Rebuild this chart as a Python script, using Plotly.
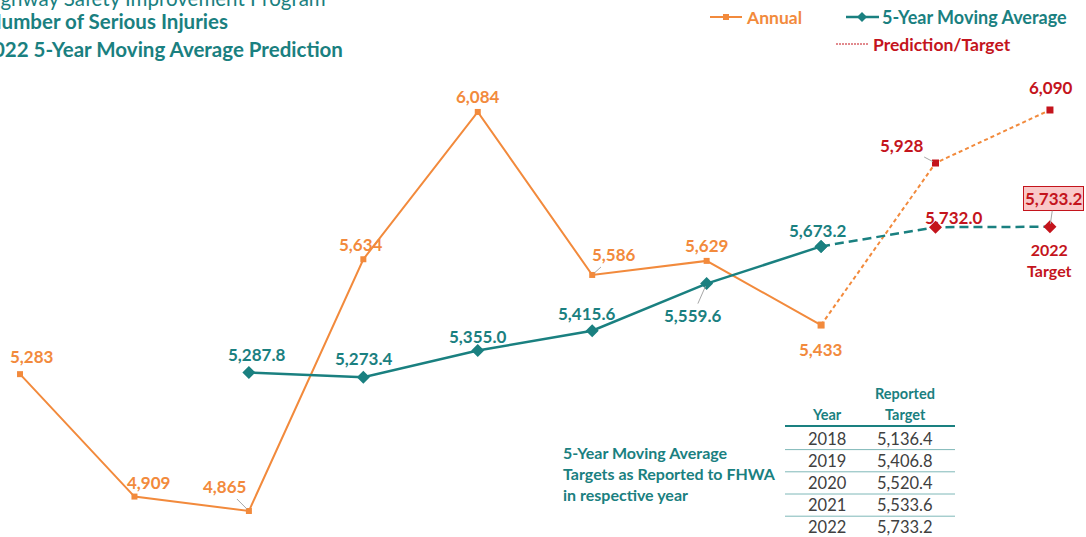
import plotly.graph_objects as go

# ---- data ----
years = [2013, 2014, 2015, 2016, 2017, 2018, 2019, 2020, 2021, 2022]
annual = [5283, 4909, 4865, 5634, 6084, 5586, 5629, 5433, 5928, 6090]
moving_avg = [None, None, 5287.8, 5273.4, 5355.0, 5415.6, 5559.6, 5673.2, 5732.0, 5733.2]
last_actual = 2020

table_years = [2018, 2019, 2020, 2021, 2022]
reported_targets = [5136.4, 5406.8, 5520.4, 5533.6, 5733.2]

title_lines = ["Highway Safety Improvement Program",
               "Number of Serious Injuries",
               "2022 5-Year Moving Average Prediction"]

ORANGE = "#F28A3C"
TEAL = "#1A8080"
RED = "#C4141C"
GREY = "#A6A6A6"
FONT = "Lato"
W, H = 1086, 537


def px(x):
    return x / W


def py(y):
    return 1 - y / H


def note(x, y, text, size, color, xanchor="center", yanchor="middle", **kw):
    # paper-positioned text, given in pixels from the top-left corner
    return dict(xref="paper", yref="paper", x=px(x), y=py(y), text=text, showarrow=False,
                xanchor=xanchor, yanchor=yanchor,
                font=dict(family=FONT, size=size, color=color), **kw)


i_last = years.index(last_actual)

fig = go.Figure()

# annual, reported years
fig.add_trace(go.Scatter(
    x=years[:i_last + 1], y=annual[:i_last + 1], mode="lines+markers",
    line=dict(color=ORANGE, width=2), marker=dict(symbol="square", size=6, color=ORANGE)))
# annual, prediction
fig.add_trace(go.Scatter(
    x=years[i_last:], y=annual[i_last:], mode="lines+markers",
    line=dict(color=ORANGE, width=2, dash="4px,3px"),
    marker=dict(symbol="square", size=7, color=[ORANGE] + [RED] * (len(years) - i_last - 1))))
# moving average, reported
ma_x = [yr for yr, v in zip(years, moving_avg) if v is not None]
ma_y = [v for v in moving_avg if v is not None]
j_last = ma_x.index(last_actual)
fig.add_trace(go.Scatter(
    x=ma_x[:j_last + 1], y=ma_y[:j_last + 1], mode="lines+markers",
    line=dict(color=TEAL, width=2.5), marker=dict(symbol="diamond", size=10, color=TEAL)))
# moving average, prediction
fig.add_trace(go.Scatter(
    x=ma_x[j_last:], y=ma_y[j_last:], mode="lines+markers",
    line=dict(color=TEAL, width=2.5, dash="9px,5px"),
    marker=dict(symbol="diamond", size=10, color=[TEAL] + [RED] * (len(ma_x) - j_last - 1))))

ann = []
LBL = 17


def point_label(yr, v, txt, col, dx, dy, lead):
    if lead:
        return dict(x=yr, y=v, text=f"<b>{txt}</b>", showarrow=True, ax=dx, ay=-dy, arrowhead=0,
                    arrowwidth=1, arrowcolor=GREY, standoff=3,
                    font=dict(family=FONT, size=LBL, color=col))
    return dict(x=yr, y=v, text=f"<b>{txt}</b>", showarrow=False, xshift=dx, yshift=dy,
                xanchor="center", yanchor="middle", font=dict(family=FONT, size=LBL, color=col))


# annual labels: (dx, dy, leader)
annual_pos = [(12, 18, False), (14, 14, False), (-24, 24, True), (-2, 15, False), (0, 15, False),
              (22, 20, True), (0, 15, False), (0, -24, False), (-34, 18, True), (1, 22, False)]
for yr, v, (dx, dy, lead) in zip(years, annual, annual_pos):
    col = RED if yr > last_actual else ORANGE
    ann.append(point_label(yr, v, f"{v:,}", col, dx, dy, lead))

ma_pos = [None, None, (8, 18, False), (0, 19, False), (0, 14, False), (-6, 17, False),
          (-14, -32, True), (-4, 16, False), (18, 10, False), None]
for yr, v, pos in zip(years, moving_avg, ma_pos):
    if v is None or pos is None:
        continue
    col = RED if yr > last_actual else TEAL
    ann.append(point_label(yr, v, f"{v:,.1f}", col, *pos))

# boxed 2022 target
ann.append(dict(x=years[-1], y=moving_avg[-1], text=f"<b>{moving_avg[-1]:,.1f}</b>", showarrow=True,
                ax=4, ay=-28, arrowhead=0, arrowwidth=1, arrowcolor=GREY, standoff=3,
                bgcolor="#F9C8C8", bordercolor=RED, borderwidth=1, borderpad=1,
                font=dict(family=FONT, size=LBL, color=RED)))
ann.append(dict(x=years[-1], y=moving_avg[-1], text="<b>2022<br>Target</b>", showarrow=False,
                xanchor="center", yanchor="middle", yshift=-33,
                font=dict(family=FONT, size=16, color=RED)))

# title (cropped at top-left like the source)
title_ends = [(328, -2, False), (230, 21, True), (345, 49, True)]
for line, (xe, yc, bold) in zip(title_lines, title_ends):
    ann.append(note(xe, yc, f"<b>{line}</b>" if bold else line, 20.5, TEAL, xanchor="right"))

# legend
ann.append(note(744, 17, "<b>Annual</b>", 17.5, ORANGE, xanchor="left"))
ann.append(note(880, 17, "<b>5-Year Moving Average</b>", 18, TEAL, xanchor="left"))
ann.append(note(871, 44, "<b>Prediction/Target</b>", 17.5, RED, xanchor="left"))

shapes = [
    dict(type="line", xref="paper", yref="paper", x0=px(710), x1=px(742), y0=py(17), y1=py(17),
         line=dict(color=ORANGE, width=2)),
    dict(type="rect", xref="paper", yref="paper", x0=px(723), x1=px(729), y0=py(14), y1=py(20),
         fillcolor=ORANGE, line=dict(width=0)),
    dict(type="line", xref="paper", yref="paper", x0=px(846), x1=px(879), y0=py(17), y1=py(17),
         line=dict(color=TEAL, width=2.5)),
    dict(type="path", xref="paper", yref="paper",
         path=f"M {px(862)},{py(12)} L {px(867)},{py(17)} L {px(862)},{py(22)} L {px(857)},{py(17)} Z",
         fillcolor=TEAL, line=dict(width=0)),
    dict(type="line", xref="paper", yref="paper", x0=px(836), x1=px(869), y0=py(44), y1=py(44),
         line=dict(color=RED, width=1, dash="2px,1px")),
]

# table of reported targets
ann.append(note(905, 393, "<b>Reported</b>", 14.5, TEAL))
ann.append(note(905, 414, "<b>Target</b>", 14.5, TEAL))
ann.append(note(827, 414, "<b>Year</b>", 14.5, TEAL))
shapes.append(dict(type="line", xref="paper", yref="paper", x0=px(785), x1=px(955),
                   y0=py(426), y1=py(426), line=dict(color=TEAL, width=2)))
row_h = 22.2
for k, (yr, t) in enumerate(zip(table_years, reported_targets)):
    yc = 438.5 + k * row_h
    ann.append(note(827, yc, str(yr), 16.5, "#404040"))
    ann.append(note(905, yc, f"{t:,.1f}", 16.5, "#404040"))
    shapes.append(dict(type="line", xref="paper", yref="paper", x0=px(785), x1=px(955),
                       y0=py(yc + row_h / 2), y1=py(yc + row_h / 2),
                       line=dict(color="#7FB8B8", width=1)))

ann.append(note(561, 473,
                "<b>5-Year Moving Average<br>Targets as Reported to FHWA<br>in respective year</b>",
                16, TEAL, xanchor="left", align="left"))

fig.update_layout(
    width=W, height=H, margin=dict(l=0, r=0, t=0, b=0),
    paper_bgcolor="white", plot_bgcolor="white", showlegend=False,
    xaxis=dict(range=[2012.825, 2022.315], visible=False, fixedrange=True),
    yaxis=dict(range=[4785.5, 6426], visible=False, fixedrange=True),
    annotations=ann, shapes=shapes,
)

fig.write_html("out.html", config={"displayModeBar": False},
               post_script="document.body.style.margin='0';")
